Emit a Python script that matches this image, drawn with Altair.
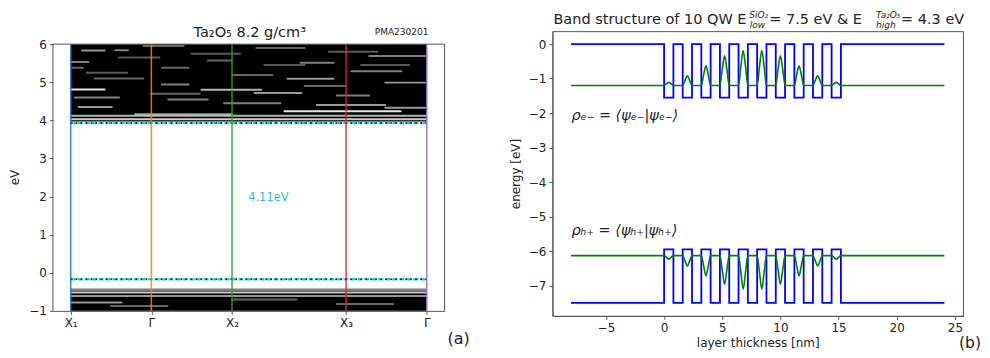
import altair as alt
import pandas as pd

FONT = "DejaVu Sans"

# ---------------- panel (a): Ta2O5 band structure ----------------
k_ids = ["X1", "G1", "X2", "X3", "G2"]
k_pos = [0.0, 1.0, 2.0, 3.414, 4.414]
k_labels = ["X₁", "Γ", "X₂", "X₃", "Γ"]
k_colors = ["#1f77b4", "#ff7f0e", "#2ca02c", "#d62728", "#9467bd"]
ev_ticks = [-1, 0, 1, 2, 3, 4, 5, 6]
ev_min, ev_max = -1.0, 6.0
k_min, k_max = -0.22, 4.635

# dense band regions (conduction / valence)
band_k0 = [0.0, 0.0]
band_k1 = [4.414, 4.414]
band_lo = [3.97, -1.0]
band_hi = [6.0, -0.42]

# light streaks (gaps between bands)
streak_k0 = [0.14, 0.55, 0.01, 0.02, 0.01, 1.62, 1.13, 2.69, 2.28, 1.21, 0.10, 2.65, 3.05, 0.80, 0.00, 0.00,
             3.90, 2.85, 3.48, 3.70, 3.90, 3.30, 1.13, 2.00, 1.70, 0.30, 0.90, 2.30, 0.05, 1.90,
             0.60, 1.50, 2.40, 3.20, 0.20, 1.00, 2.90, 3.60,
             0.00, 0.00, 0.01, 0.50, 2.00, 3.30, 0.00]
streak_k1 = [0.42, 0.71, 0.22, 0.15, 0.42, 2.36, 1.46, 3.26, 2.86, 1.70, 0.51, 4.09, 3.90, 2.00, 4.414, 4.414,
             4.414, 3.26, 4.10, 4.40, 4.40, 3.70, 1.46, 2.50, 2.00, 0.90, 1.40, 2.90, 0.60, 2.60,
             1.10, 2.10, 2.90, 3.80, 0.70, 1.60, 3.40, 4.20,
             4.414, 4.414, 0.63, 1.20, 2.80, 4.00, 4.414]
streak_e = [5.83, 5.84, 5.53, 5.38, 4.81, 4.80, 4.94, 5.09, 4.72, 4.55, 4.35, 4.24, 4.40, 4.16, 4.12, 4.03,
            4.33, 5.51, 5.29, 5.69, 4.99, 4.65, 5.38, 5.19, 5.57, 5.10, 5.95, 5.90, 4.60, 4.45,
            5.65, 5.75, 5.45, 5.80, 5.25, 4.70, 4.90, 5.45,
            -0.52, -0.61, -0.78, -0.87, -0.70, -0.82, -0.45]
streak_a = [0.6, 0.5, 0.5, 0.4, 0.9, 0.7, 0.5, 0.6, 0.6, 0.5, 0.6, 0.9, 0.6, 0.6, 0.7, 0.8,
            0.6, 0.5, 0.5, 0.5, 0.6, 0.5, 0.4, 0.4, 0.4, 0.4, 0.4, 0.4, 0.5, 0.5,
            0.35, 0.35, 0.35, 0.35, 0.35, 0.4, 0.4, 0.35,
            0.8, 0.6, 0.6, 0.4, 0.4, 0.4, 0.5]

edge_e = [3.93, -0.17]          # CBM, VBM
gap_text = ["4.11eV"]
gap_k = [2.2]
gap_e = [1.96]

title_a = "Ta₂O₅ 8.2 g/cm³"
tag_a = "PMA230201"

# ---------------- panel (b): 10 quantum wells ----------------
layer_x = [-8.0, 0.0, 0.8, 1.6, 2.4, 3.2, 4.0, 4.8, 5.6, 6.4, 7.2, 8.0, 8.8, 9.6, 10.4, 11.2,
           12.0, 12.8, 13.6, 14.4, 15.2, 24.1]
cb_level = [0.0, -1.55, 0.0, -1.55, 0.0, -1.55, 0.0, -1.55, 0.0, -1.55, 0.0, -1.55, 0.0, -1.55, 0.0, -1.55,
            0.0, -1.55, 0.0, -1.55, 0.0, 0.0]
vb_level = [-7.5, -5.95, -7.5, -5.95, -7.5, -5.95, -7.5, -5.95, -7.5, -5.95, -7.5, -5.95, -7.5, -5.95, -7.5, -5.95,
            -7.5, -5.95, -7.5, -5.95, -7.5, -7.5]

rho_x = [-8.0,
         0.0, 0.2, 0.4, 0.6, 0.8,
         1.6, 1.8, 2.0, 2.2, 2.4,
         3.2, 3.4, 3.6, 3.8, 4.0,
         4.8, 5.0, 5.2, 5.4, 5.6,
         6.4, 6.6, 6.8, 7.0, 7.2,
         8.0, 8.2, 8.4, 8.6, 8.8,
         9.6, 9.8, 10.0, 10.2, 10.4,
         11.2, 11.4, 11.6, 11.8, 12.0,
         12.8, 13.0, 13.2, 13.4, 13.6,
         14.4, 14.6, 14.8, 15.0, 15.2,
         24.1]
rho_e = [-1.20,
         -1.20, -1.15, -1.11, -1.15, -1.20,
         -1.20, -1.05, -0.92, -1.05, -1.20,
         -1.20, -0.89, -0.63, -0.89, -1.20,
         -1.20, -0.73, -0.34, -0.73, -1.20,
         -1.20, -0.65, -0.19, -0.65, -1.20,
         -1.20, -0.65, -0.19, -0.65, -1.20,
         -1.20, -0.73, -0.34, -0.73, -1.20,
         -1.20, -0.89, -0.63, -0.89, -1.20,
         -1.20, -1.05, -0.92, -1.05, -1.20,
         -1.20, -1.15, -1.11, -1.15, -1.20,
         -1.20]
rho_h = [-6.13,
         -6.13, -6.18, -6.23, -6.18, -6.13,
         -6.13, -6.28, -6.43, -6.28, -6.13,
         -6.13, -6.42, -6.72, -6.42, -6.13,
         -6.13, -6.54, -6.96, -6.54, -6.13,
         -6.13, -6.61, -7.10, -6.61, -6.13,
         -6.13, -6.61, -7.10, -6.61, -6.13,
         -6.13, -6.54, -6.96, -6.54, -6.13,
         -6.13, -6.42, -6.72, -6.42, -6.13,
         -6.13, -6.28, -6.43, -6.28, -6.13,
         -6.13, -6.18, -6.23, -6.18, -6.13,
         -6.13]

xb_ticks = [-5, 0, 5, 10, 15, 20, 25]
yb_ticks = [-7, -6, -5, -4, -3, -2, -1, 0]
rho_e_text = "ρₑ₋ = ⟨ψₑ₋|ψₑ₋⟩"
rho_h_text = "ρₕ₊ = ⟨ψₕ₊|ψₕ₊⟩"

FRAME = "#555"

# ================= panel (a) chart =================
# plot frame covers -1..6 eV; 13 px of free room above it (same top as panel b)
WA, HA = 392, 280
TOP_PAD = 13
px_per_ev = (HA - TOP_PAD) / (ev_max - ev_min)
xa_scale = alt.Scale(domain=[k_min, k_max], nice=False, zero=False)
ya_scale = alt.Scale(domain=[ev_min, ev_max + TOP_PAD / px_per_ev], nice=False, zero=False)
label_expr = " : ".join(f"datum.value == {p} ? '{l}'" for p, l in zip(k_pos, k_labels)) + " : ''"
xa_axis = alt.Axis(values=k_pos, labelExpr=label_expr, title=None, grid=False)
ya_axis = alt.Axis(values=ev_ticks, title="eV", grid=False, titlePadding=7.5, domain=False, titleY=146)


def XA(f):
    return alt.X(f + ":Q", scale=xa_scale, axis=xa_axis)


def YA(f):
    return alt.Y(f + ":Q", scale=ya_scale, axis=ya_axis)


bands = pd.DataFrame({"k0": band_k0, "k1": band_k1, "lo": band_lo, "hi": band_hi})
streaks = pd.DataFrame({"k0": streak_k0, "k1": streak_k1, "e": streak_e, "a": streak_a})
edges = pd.DataFrame({"k0": [k_pos[0]] * 2, "k1": [k_pos[-1]] * 2, "e": edge_e})
kdf = pd.DataFrame({"k": k_pos, "id": k_ids, "lo": [ev_min] * 5, "hi": [ev_max] * 5})
gap = pd.DataFrame({"k": gap_k, "e": gap_e, "t": gap_text})
frame_h = pd.DataFrame({"k0": [k_min], "k1": [k_max], "e": [ev_max]})
frame_v = pd.DataFrame({"k": [k_min, k_max], "lo": [ev_min] * 2, "hi": [ev_max] * 2})

a_rect = alt.Chart(bands).mark_rect(color="black").encode(x=XA("k0"), x2="k1", y=YA("lo"), y2="hi")
a_streak = alt.Chart(streaks).mark_rule(color="white", strokeWidth=2, strokeCap="round").encode(
    x=XA("k0"), x2="k1", y=YA("e"), opacity=alt.Opacity("a:Q", scale=None))
a_edge = alt.Chart(edges).mark_rule(color="#2ccccc", strokeWidth=2.4, strokeDash=[5, 2]).encode(
    x=XA("k0"), x2="k1", y=YA("e"))
a_edge_dot = alt.Chart(edges).mark_rule(color="black", strokeWidth=1.5, strokeDash=[1.5, 3.5]).encode(
    x=XA("k0"), x2="k1", y=YA("e"))
a_vlines = alt.Chart(kdf).mark_rule(strokeWidth=1.6, opacity=0.85).encode(
    x=XA("k"), y=YA("lo"), y2="hi",
    color=alt.Color("id:N", scale=alt.Scale(domain=k_ids, range=k_colors), legend=None))
a_frame_top = alt.Chart(frame_h).mark_rule(color=FRAME, strokeWidth=1).encode(x=XA("k0"), x2="k1", y=YA("e"))
a_frame_side = alt.Chart(frame_v).mark_rule(color=FRAME, strokeWidth=1).encode(x=XA("k"), y=YA("lo"), y2="hi")
a_gap = alt.Chart(gap).mark_text(align="left", baseline="middle", color="#2cc4c4", fontSize=11.5, font=FONT).encode(
    x=XA("k"), y=YA("e"), text="t:N")

one = pd.DataFrame({"z": [0]})
a_title = alt.Chart(one).mark_text(text=title_a, font=FONT, fontSize=14.5, align="center", baseline="middle",
                                   color="#222").encode(x=alt.value(197), y=alt.value(1.5))
a_tag = alt.Chart(one).mark_text(text=tag_a, font=FONT, fontSize=9, align="center", baseline="middle",
                                 color="#222").encode(x=alt.value(349), y=alt.value(1))
a_lab = alt.Chart(one).mark_text(text="(a)", font=FONT, fontSize=16, align="left", baseline="middle",
                                 color="#222").encode(x=alt.value(395), y=alt.value(308))

chart_a = alt.layer(a_rect, a_streak, a_edge, a_edge_dot, a_vlines, a_frame_top, a_frame_side,
                    a_gap, a_title, a_tag, a_lab).properties(
    width=WA, height=HA, view=alt.ViewBackground(strokeOpacity=0))

# ================= panel (b) chart =================
WB, HB = 411, 285
xb_scale = alt.Scale(domain=[-9.6, 25.7], nice=False, zero=False)
yb_scale = alt.Scale(domain=[-7.875, 0.375], nice=False, zero=False)
xb_axis = alt.Axis(values=xb_ticks, title="layer thickness [nm]", grid=False, titlePadding=4)
yb_axis = alt.Axis(values=yb_ticks, title="energy [eV]", grid=False, titlePadding=6)


def XB(f):
    return alt.X(f + ":Q", scale=xb_scale, axis=xb_axis)


def YB(f):
    return alt.Y(f + ":Q", scale=yb_scale, axis=yb_axis)


layers_df = pd.DataFrame({"x": layer_x, "cb": cb_level, "vb": vb_level})
rho_df = pd.DataFrame({"x": rho_x, "re": rho_e, "rh": rho_h})

b_cb = alt.Chart(layers_df).mark_line(color="#0000ff", strokeWidth=1.8, interpolate="step-after").encode(
    x=XB("x"), y=YB("cb"))
b_vb = alt.Chart(layers_df).mark_line(color="#0000ff", strokeWidth=1.8, interpolate="step-after").encode(
    x=XB("x"), y=YB("vb"))
b_re = alt.Chart(rho_df).mark_line(color="#008000", strokeWidth=1.6, interpolate="monotone").encode(
    x=XB("x"), y=YB("re"))
b_rh = alt.Chart(rho_df).mark_line(color="#008000", strokeWidth=1.6, interpolate="monotone").encode(
    x=XB("x"), y=YB("rh"))


def ptext(txt, x, y, size, align="left", baseline="alphabetic", style="normal"):
    return alt.Chart(one).mark_text(text=txt, font=FONT, fontSize=size, align=align, baseline=baseline,
                                    fontStyle=style, color="#222").encode(x=alt.value(x), y=alt.value(y))


b_texts = [
    ptext("Band structure of 10 QW E", 1, -7, 14.5),
    ptext("SiO₂", 197, -13, 9, style="italic"),
    ptext("low", 197.5, -3, 9, style="italic"),
    ptext("= 7.5 eV & E", 217, -7, 14.5),
    ptext("Ta₂O₅", 324, -13, 9, style="italic"),
    ptext("high", 324, -3, 9, style="italic"),
    ptext("= 4.3 eV", 349, -7, 14.5),
    ptext(rho_e_text, 19, 85, 14.5, baseline="middle", style="italic"),
    ptext(rho_h_text, 19, 200, 14.5, baseline="middle", style="italic"),
    ptext("(b)", 407, 312, 15.5, baseline="middle"),
]

chart_b = alt.layer(b_cb, b_vb, b_re, b_rh, *b_texts).properties(width=WB, height=HB)

full = alt.hconcat(chart_a, chart_b, spacing=108, bounds="flush").properties(
    padding={"left": 0, "top": 2, "right": 0, "bottom": 0}
).configure(font=FONT).configure_view(stroke=FRAME, strokeWidth=1).configure_axis(
    labelFontSize=12, titleFontSize=12, labelFont=FONT, titleFont=FONT, labelColor="#222", titleColor="#222",
    titleFontWeight="normal", tickColor=FRAME, domainColor=FRAME, tickSize=3.5, labelPadding=3, grid=False)

full.save("out.html", embed_options={"renderer": "svg", "actions": False})
